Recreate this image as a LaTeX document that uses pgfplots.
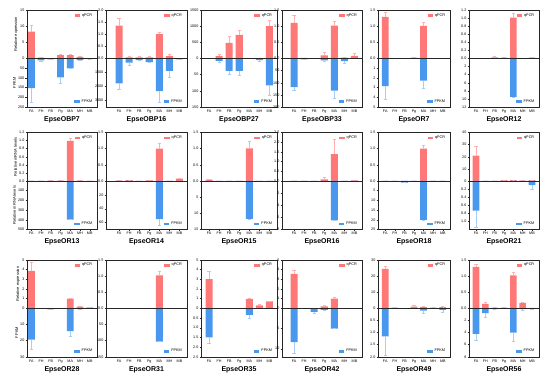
\documentclass[border=0pt]{standalone}
\usepackage{pgfplots}
\pgfplotsset{compat=1.18}
\usepackage{pgfplotstable}
\usepackage{fontspec}
\setmainfont{Liberation Sans}
\definecolor{qcol}{HTML}{FF7878}
\definecolor{fcol}{HTML}{4A98EE}
\definecolor{qerr}{HTML}{FFB0B0}
\definecolor{ferr}{HTML}{A6CEF8}

% columns: x q qe f fe  (x: 0=FA 1=FH 2=FB 3=Pg 4=MA 5=MH 6=MB)
\pgfplotstableread{
x q qe f fe
0 8.3 2.0 153 71
1 0.3 0.1 10 2
2 0.1 0 5 0
3 1.05 0.3 97 31
4 1.05 0.3 51 0
5 0.5 0.2 8 2
6 0.1 0 3 0
}\tA
\pgfplotstableread{
x q qe f fe
0 1.36 0.31 1800 430
1 0.05 0.03 290 190
2 0.05 0.03 120 0
3 0.05 0.03 260 0
4 1.0 0.08 2350 840
5 0.1 0.07 890 430
6 0.01 0 70 0
}\tB
\pgfplotstableread{
x q qe f fe
0 0 0 0 0
1 72 52 7 5
2 486 217 38 10
3 734 145 38 13
4 0 0 0 0
5 10 0 5 4
6 1003 187 83 32
}\tC
\pgfplotstableread{
x q qe f fe
0 1.10 0.23 118 11
1 0.02 0 4 0
2 0.01 0 1 0
3 0.1 0.08 8 3
4 1.02 0.14 132 31
5 0.03 0.02 11 7
6 0.08 0.07 1 0
}\tD
\pgfplotstableread{
x q qe f fe
0 1.29 0.13 2.86 1.38
1 0 0 0 0
2 0 0 0 0
3 0.03 0 0 0
4 1.01 0.10 2.28 0.79
5 0 0 0 0
6 0 0 0 0
}\tE
\pgfplotstableread{
x q qe f fe
0 0.01 0 0 0
1 0.01 0 0 0
2 0.03 0.03 0 0
3 0.02 0 0 0
4 1.01 0.12 9.5 0
5 0.01 0 0 0
6 0.02 0 0 0
}\tF
\pgfplotstableread{
x q qe f fe
0 0 0 0 0
1 0 0 0 0
2 0.01 0 3 0
3 0.01 0 2 0
4 0.99 0.06 397 0
5 0.01 0 0 0
6 0 0 0 0
}\tG
\pgfplotstableread{
x q qe f fe
0 0.01 0 0.5 0
1 0.03 0 0 0
2 0 0 0 0
3 0.02 0 0 0
4 1.0 0.16 55 9
5 0 0 0.5 0
6 0.07 0.01 0 0
}\tH
\pgfplotstableread{
x q qe f fe
0 0.04 0.02 0 0
1 0 0 0 0
2 0 0 0 0
3 0 0 0 0
4 1.01 0.23 11.7 0
5 0 0 0 0
6 0 0 0 0
}\tI
\pgfplotstableread{
x q qe f fe
0 0.01 0 0 0
1 0 0 0 0
2 0.01 0 0 0
3 0.09 0.08 0 0
4 1.38 0.78 6.5 0
5 0 0 0 0
6 0.03 0 0 0
}\tJ
\pgfplotstableread{
x q qe f fe
0 0 0 0 0
1 0 0 0 0
2 0 0 0.85 0
3 0 0 0 0
4 1.0 0.12 20 0
5 0 0 0 0
6 0 0 0 0
}\tK
\pgfplotstableread{
x q qe f fe
0 21 8 0.73 0.41
1 0 0 0 0
2 0 0 0 0
3 0.7 0 0 0
4 0.7 0 0 0
5 0.4 0 0 0
6 0.7 0 0.1 0.1
}\tL
\pgfplotstableread{
x q qe f fe
0 3.86 0.86 19.3 6.2
1 0 0 0 0
2 0.02 0 0.6 0
3 0 0 0.2 0
4 1.0 0.07 14.1 3.1
5 0.17 0.07 0.4 0.2
6 0.1 0 0 0
}\tM
\pgfplotstableread{
x q qe f fe
0 0 0 0 0
1 0 0 0 0
2 0 0 0 0
3 0 0 0 0
4 1.02 0.14 103 0
5 0 0 0 0
6 0 0 0 0
}\tN
\pgfplotstableread{
x q qe f fe
0 3.0 0.86 1.5 0.29
1 0 0 0 0
2 0 0 0 0
3 0 0 0 0
4 0.97 0.06 0.34 0.17
5 0.31 0.14 0 0
6 0.72 0.04 0 0
}\tO
\pgfplotstableread{
x q qe f fe
0 3.55 0.42 8.35 2.65
1 0 0 0 0
2 0.02 0 0.9 0.34
3 0.2 0.08 0.4 0.18
4 1.0 0.17 5.04 0
5 0.03 0 0.08 0
6 0.02 0 0.04 0
}\tP
\pgfplotstableread{
x q qe f fe
0 24.4 1.9 1.16 0.79
1 0.4 0 0 0
2 0 0 0 0
3 1.0 0.6 0 0
4 0.8 0.4 0.1 0.1
5 0.4 0 0 0
6 0.8 0.2 0.07 0.08
}\tQ
\pgfplotstableread{
x q qe f fe
0 1.28 0.09 4.2 1.0
1 0.14 0.05 0.8 0.7
2 0.02 0 0.15 0
3 0.02 0 0.05 0
4 1.02 0.08 4.0 1.5
5 0.17 0.03 0.15 0.12
6 0.01 0 0.1 0
}\tR

\pgfplotsset{
  pan/.style={scale only axis, xmin=\xlo, xmax=6.75, height=48.5bp,
    axis on top, ybar, bar width=0.7,
    axis line style={line width=0.5bp, black!85},
    tick style={line width=0.4bp, black!85},
    tick align=outside, major tick length=1.5bp,
    ticklabel style={font=\fontsize{3.7}{4}\selectfont},
    yticklabel style={inner sep=1bp},
    xticklabel style={inner sep=1.2bp},
    ytick pos=left,
    legend style={draw=none, fill=none, font=\fontsize{3.8}{4.5}\selectfont,
      inner sep=0pt, outer sep=0pt, at={(0.96,0.97)}, anchor=north east},
    ylabel style={font=\fontsize{4}{4.5}\selectfont, inner sep=1bp},
    xlabel style={font=\bfseries\fontsize{7}{8}\selectfont, inner sep=0.5bp, yshift=-1.5bp},
  },
  qbar/.style={fill=qcol, draw=none,
    legend image code/.code={\fill[qcol] (0bp,-1.3bp) rectangle (5.5bp,1.3bp);},
    error bars/.cd, y dir=plus, y explicit,
    error bar style={qerr, line width=0.5bp},
    error mark options={qerr, rotate=90, mark size=1.6bp, line width=0.5bp}},
  fbar/.style={fill=fcol, draw=none,
    legend image code/.code={\fill[fcol] (0bp,-1.3bp) rectangle (5.5bp,1.3bp);},
    error bars/.cd, y dir=plus, y explicit,
    error bar style={ferr, line width=0.5bp},
    error mark options={ferr, rotate=90, mark size=1.6bp, line width=0.5bp}},
}

\def\ylabtop{}\def\ylabbot{}\def\xlo{-0.8}
% #1 left, #2 zero-line y, #3 width, #4 table, #5 qmax, #6 qticks, #7 fmax, #8 fticks, #9 title
\newcommand{\panel}[9]{%
\begin{axis}[pan, at={(#1bp,#2bp)}, anchor=south west, width=#3bp,
  ymin=0, ymax=#5, ytick={#6}, yticklabels={#6}, xtick=\empty, ylabel={\ylabtop}]
\addplot[qbar] table[x=x, y=q, y error=qe]{#4};
\addlegendentry{qPCR}
\end{axis}
\begin{axis}[pan, at={(#1bp,#2bp)}, anchor=north west, width=#3bp, y dir=reverse,
  ymin=0, ymax=#7, ytick={#8}, yticklabels={#8},
  xtick={0,1,2,3,4,5,6}, xticklabels={FA,FH,FB,Pg,MA,MH,MB},
  xtick pos=left, xticklabel pos=left, xlabel={#9}, ylabel={\ylabbot},
  legend style={at={(0.96,0.03)}, anchor=south east}]
\addplot[fbar] table[x=x, y=f, y error=fe]{#4};
\addlegendentry{FPKM}
\end{axis}}

\begin{document}
\begin{tikzpicture}
\path[use as bounding box] (0,0) rectangle (550bp,378bp);
% ---- row 1
\def\xlo{-0.45}\def\ylabtop{Relative expression}\def\ylabbot{FPKM}
\panel{27}{319.5}{70}{\tA}{15}{0,5,10,15}{250}{50,100,150,200,250}{EpseOBP7}
\def\ylabtop{}\def\ylabbot{}
\def\xlo{-1.3}
\panel{106}{319.5}{81}{\tB}{2.0}{0.0,0.5,1.0,1.5,2.0}{3500}{1000,2000,3000}{EpseOBP16}
\def\xlo{-0.8}
\panel{201}{319.5}{76}{\tC}{1500}{0,500,1000,1500}{150}{50,100,150}{EpseOBP27}
\def\xlo{-1.2}
\panel{282}{319.5}{80}{\tD}{1.5}{0.0,0.5,1.0,1.5}{200}{50,100,150,200}{EpseOBP33}
\def\xlo{-0.75}
\panel{378}{319.5}{72}{\tE}{1.5}{0.0,0.5,1.0,1.5}{5}{1,2,3,4,5}{EpseOR7}
\panel{469}{319.5}{70}{\tF}{1.2}{0.0,0.2,0.4,0.6,0.8,1.0,1.2}{12}{2,4,6,8,10,12}{EpseOR12}
% ---- row 2
\def\xlo{-0.45}\def\ylabtop{Relative mRNA levels}\def\ylabbot{Relative mRNA levels}
\panel{27}{197}{70}{\tG}{1.2}{0.0,0.2,0.4,0.6,0.8,1.0,1.2}{500}{100,200,300,400,500}{EpseOR13}
\def\ylabtop{}\def\ylabbot{}
\def\xlo{-1.3}
\panel{106}{197}{81}{\tH}{1.5}{0.0,0.5,1.0,1.5}{70}{20,40,60}{EpseOR14}
\def\xlo{-0.8}
\panel{201}{197}{76}{\tI}{1.5}{0.0,0.5,1.0,1.5}{15}{5,10,15}{EpseOR15}
\def\xlo{-1.2}
\panel{282}{197}{80}{\tJ}{2.5}{0.0,0.5,1.0,1.5,2.0,2.5}{8}{2,4,6,8}{EpseOR16}
\def\xlo{-0.75}
\panel{378}{197}{72}{\tK}{1.5}{0.0,0.5,1.0,1.5}{25}{5,10,15,20,25}{EpseOR18}
\panel{469}{197}{70}{\tL}{40}{0,10,20,30,40}{1.2}{0.2,0.4,0.6,0.8,1.0}{EpseOR21}
% ---- row 3
\def\xlo{-0.45}\def\ylabtop{Relative expression}\def\ylabbot{FPKM}
\panel{27}{69.7}{70}{\tM}{5}{0,1,2,3,4,5}{30}{10,20,30}{EpseOR28}
\def\ylabtop{}\def\ylabbot{}
\def\xlo{-1.3}
\panel{106}{69.7}{81}{\tN}{1.5}{0.0,0.5,1.0,1.5}{150}{50,100,150}{EpseOR31}
\def\xlo{-0.8}
\panel{201}{69.7}{76}{\tO}{5}{0,1,2,3,4,5}{2.5}{0.5,1.0,1.5,2.0,2.5}{EpseOR35}
\def\xlo{-1.2}
\panel{282}{69.7}{80}{\tP}{5}{0,1,2,3,4,5}{12}{5,10}{EpseOR42}
\def\xlo{-0.75}
\panel{378}{69.7}{72}{\tQ}{30}{0,10,20,30}{2.0}{0.5,1.0,1.5,2.0}{EpseOR49}
\panel{469}{69.7}{70}{\tR}{1.5}{0.0,0.5,1.0,1.5}{8}{2,4,6,8}{EpseOR56}
\end{tikzpicture}
\end{document}
